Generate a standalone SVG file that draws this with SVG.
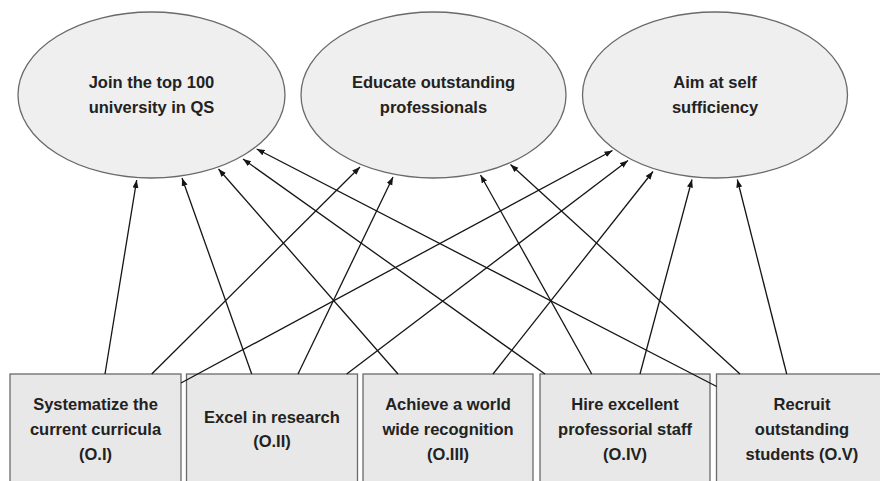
<svg xmlns="http://www.w3.org/2000/svg" width="880" height="481" viewBox="0 0 880 481">
<style>
.goal{fill:#efefef;stroke:#6a6a6a;stroke-width:1.3}
.obj{fill:#e8e8e8;stroke:#6a6a6a;stroke-width:1.3}
text{font-family:"Liberation Sans",Arial,Helvetica,sans-serif;font-weight:bold;font-size:16.5px;fill:#222;text-anchor:middle}
.conn line{stroke:#151515;stroke-width:1.3;fill:none;marker-end:url(#arr)}
</style>
<defs>
<marker id="arr" markerUnits="userSpaceOnUse" markerWidth="9" markerHeight="7" refX="8" refY="3" orient="auto">
<path d="M0,0 L8,3 L0,6 z" fill="#151515"/>
</marker>
</defs>
<rect width="880" height="481" fill="#fff"/>
<g id="goal-qs">
<ellipse class="goal" cx="151.5" cy="95" rx="133.5" ry="83"/>
<text x="151.5" y="88">Join the top 100</text>
<text x="151.5" y="113">university in QS</text>
</g>
<g id="goal-educate">
<ellipse class="goal" cx="433.5" cy="95" rx="132.5" ry="83"/>
<text x="433.5" y="88">Educate outstanding</text>
<text x="433.5" y="113">professionals</text>
</g>
<g id="goal-self">
<ellipse class="goal" cx="715" cy="95" rx="132.5" ry="83"/>
<text x="715" y="88">Aim at self</text>
<text x="715" y="113">sufficiency</text>
</g>
<g id="obj-1">
<rect class="obj" x="10" y="374" width="171" height="120"/>
<text x="95.5" y="410">Systematize the</text>
<text x="95.5" y="435">current curricula</text>
<text x="95.5" y="460">(O.I)</text>
</g>
<g id="obj-2">
<rect class="obj" x="186.5" y="374" width="171" height="120"/>
<text x="272" y="422.5">Excel in research</text>
<text x="272" y="447">(O.II)</text>
</g>
<g id="obj-3">
<rect class="obj" x="363" y="374" width="170" height="120"/>
<text x="448" y="410">Achieve a world</text>
<text x="448" y="435">wide recognition</text>
<text x="448" y="460">(O.III)</text>
</g>
<g id="obj-4">
<rect class="obj" x="540" y="374" width="170" height="120"/>
<text x="625" y="410">Hire excellent</text>
<text x="625" y="435">professorial staff</text>
<text x="625" y="460">(O.IV)</text>
</g>
<g id="obj-5">
<rect class="obj" x="716.5" y="374" width="171" height="120"/>
<text x="802" y="410">Recruit</text>
<text x="802" y="435">outstanding</text>
<text x="802" y="460">students (O.V)</text>
</g>
<g id="connectors" class="conn">
<line x1="105" y1="374" x2="136.7" y2="180"/>
<line x1="151.7" y1="374" x2="360" y2="167"/>
<line x1="181" y1="383" x2="612.5" y2="150.5"/>
<line x1="251.7" y1="374" x2="182" y2="178"/>
<line x1="298" y1="374" x2="393" y2="177"/>
<line x1="346.7" y1="374" x2="628" y2="160.5"/>
<line x1="398" y1="374" x2="218.5" y2="169"/>
<line x1="493" y1="374" x2="653" y2="171.5"/>
<line x1="545" y1="374" x2="243" y2="159"/>
<line x1="591.7" y1="374" x2="480.5" y2="175"/>
<line x1="640" y1="374" x2="692" y2="179.5"/>
<line x1="716.7" y1="386.5" x2="256.7" y2="149"/>
<line x1="740" y1="374" x2="510.5" y2="164.5"/>
<line x1="786.7" y1="374" x2="737.3" y2="179.5"/>
</g>
</svg>
